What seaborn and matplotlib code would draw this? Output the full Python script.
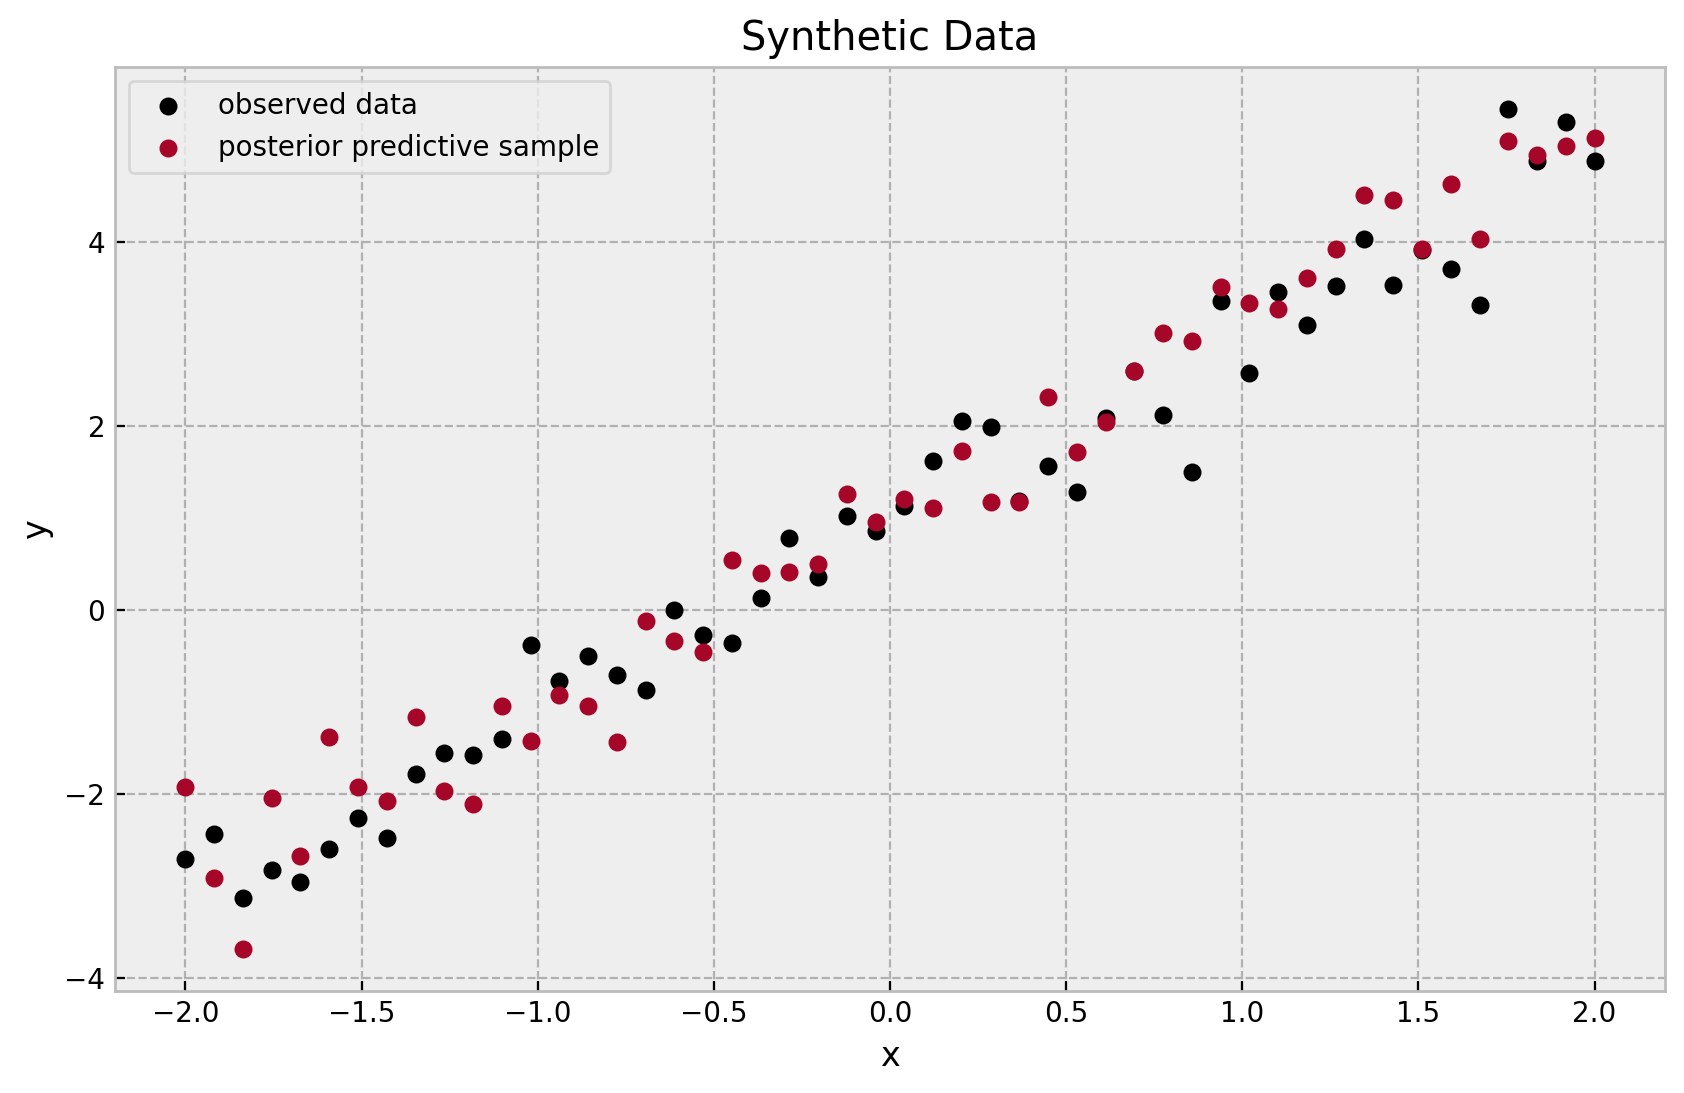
import pandas as pd
import matplotlib.pyplot as plt
import seaborn as sns

# x grid (50 evenly spaced points from -2 to 2)
x_vals = [-2.0000, -1.9184, -1.8367, -1.7551, -1.6735, -1.5918, -1.5102, -1.4286, -1.3469, -1.2653,
          -1.1837, -1.1020, -1.0204, -0.9388, -0.8571, -0.7755, -0.6939, -0.6122, -0.5306, -0.4490,
          -0.3673, -0.2857, -0.2041, -0.1224, -0.0408, 0.0408, 0.1224, 0.2041, 0.2857, 0.3673,
          0.4490, 0.5306, 0.6122, 0.6939, 0.7755, 0.8571, 0.9388, 1.0204, 1.1020, 1.1837,
          1.2653, 1.3469, 1.4286, 1.5102, 1.5918, 1.6735, 1.7551, 1.8367, 1.9184, 2.0000]

observed = [-2.70, -2.43, -3.13, -2.83, -2.96, -2.60, -2.26, -2.48, -1.78, -1.55,
            -1.58, -1.40, -0.38, -0.77, -0.50, -0.70, -0.87, 0.00, -0.27, -0.36,
            0.13, 0.78, 0.36, 1.02, 0.86, 1.13, 1.62, 2.05, 1.99, 1.19,
            1.57, 1.28, 2.09, 2.60, 2.12, 1.50, 3.36, 2.58, 3.46, 3.10,
            3.52, 4.03, 3.53, 3.91, 3.71, 3.32, 5.45, 4.88, 5.30, 4.88]

posterior = [-1.92, -2.91, -3.68, -2.04, -2.67, -1.38, -1.92, -2.08, -1.16, -1.97,
             -2.11, -1.04, -1.42, -0.92, -1.04, -1.43, -0.12, -0.34, -0.45, 0.54,
             0.40, 0.41, 0.50, 1.26, 0.96, 1.21, 1.11, 1.73, 1.18, 1.18,
             2.32, 1.72, 2.04, 2.60, 3.01, 2.93, 3.51, 3.34, 3.27, 3.61,
             3.92, 4.51, 4.46, 3.92, 4.63, 4.03, 5.10, 4.95, 5.04, 5.13]

plt.rcParams.update({
    'font.family': ['DejaVu Sans'],
    'font.size': 10,
    'axes.facecolor': '#eeeeee',
    'axes.edgecolor': '#bcbcbc',
    'axes.linewidth': 1.0,
    'axes.grid': True,
    'axes.axisbelow': True,
    'grid.linestyle': '--',
    'grid.color': '#b0b0b0',
    'grid.linewidth': 0.8,
    'xtick.direction': 'in',
    'ytick.direction': 'in',
    'xtick.major.size': 3.5,
    'ytick.major.size': 3.5,
    'legend.frameon': True,
    'legend.facecolor': '#eeeeee',
    'legend.edgecolor': '#d0d0d0',
})

df = pd.DataFrame({'x': x_vals, 'observed': observed, 'posterior': posterior})

fig = plt.figure(figsize=(8.42, 5.465), dpi=200)
ax = fig.add_axes([0.0683, 0.0936, 0.9204, 0.8454])

sns.scatterplot(data=df, x='x', y='observed', color='black', s=42, linewidth=0,
                label='observed data', ax=ax)
sns.scatterplot(data=df, x='x', y='posterior', color='#a60628', s=42, linewidth=0,
                label='posterior predictive sample', ax=ax)

ax.set_title('Synthetic Data', fontsize=14.4)
ax.set_xlabel('x', fontsize=12)
ax.set_ylabel('y', fontsize=12)
ax.tick_params(labelsize=10)
ax.legend(loc='upper left', fontsize=10)

fig.savefig('out.png', dpi=200)
plt.close()
